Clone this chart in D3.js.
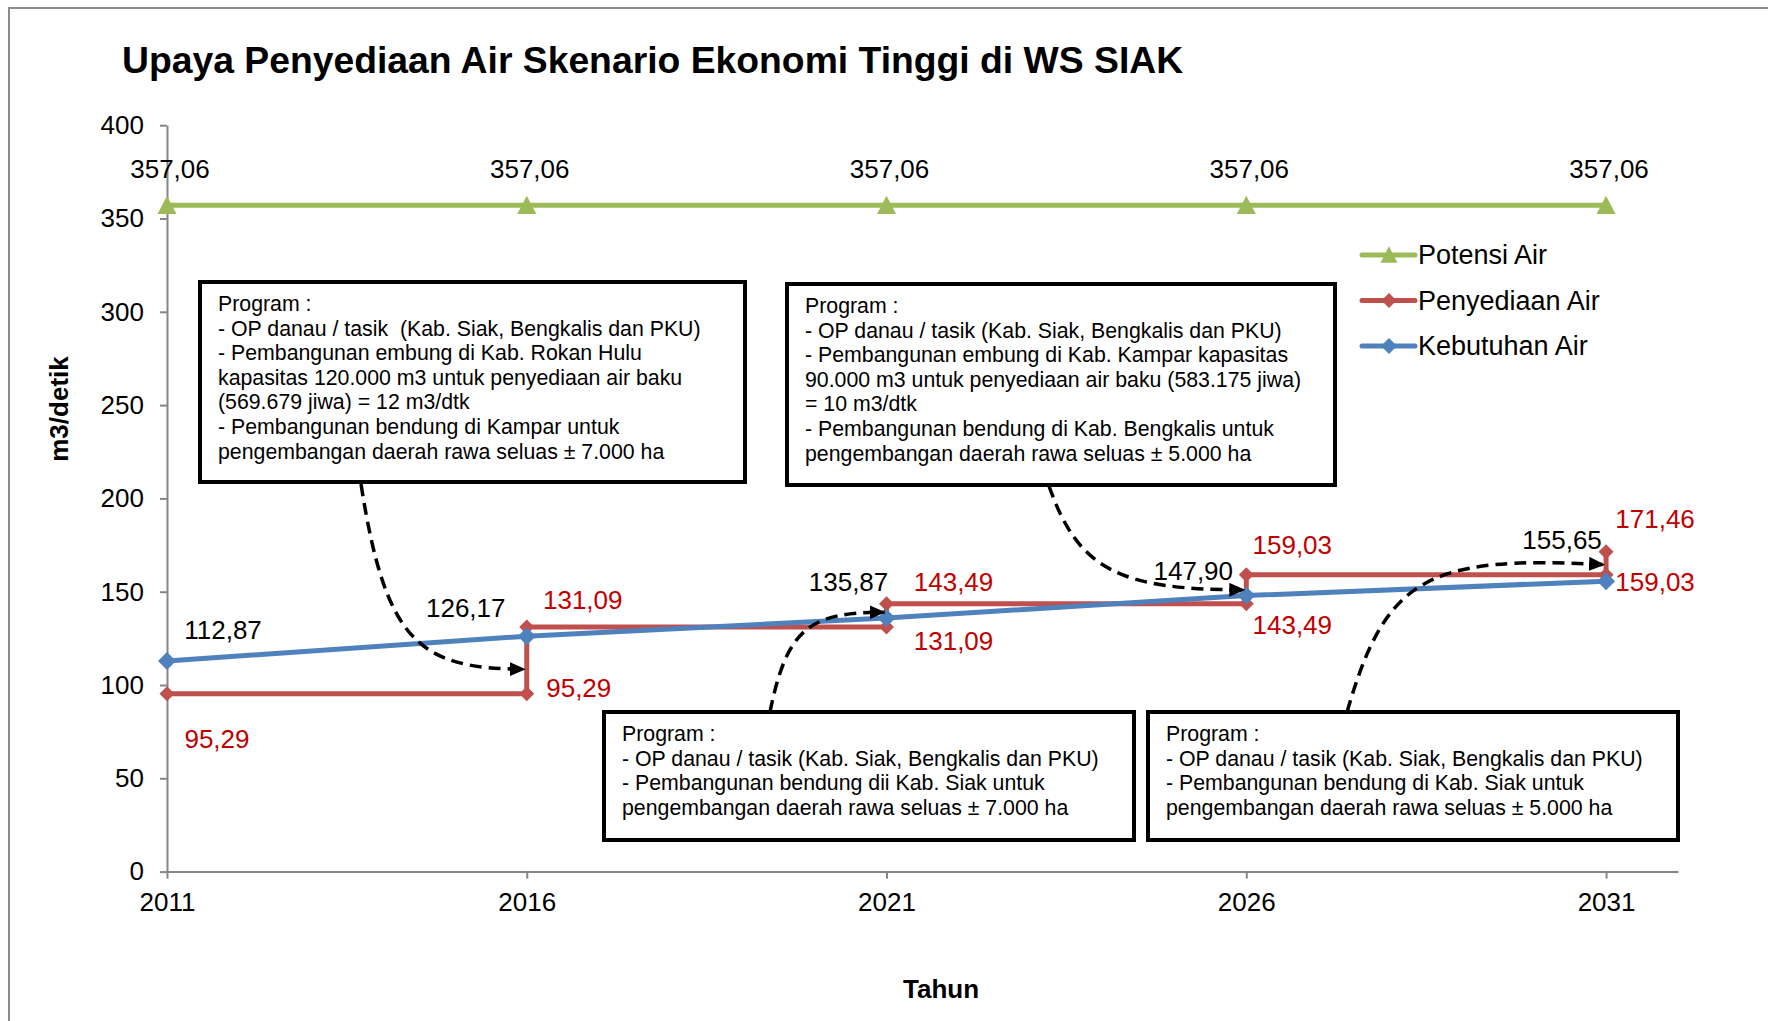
<!DOCTYPE html>
<html>
<head>
<meta charset="utf-8">
<script src="https://cdn.jsdelivr.net/npm/d3@7"></script>
<style>
  body { margin: 0; background: #fff; }
  svg { display: block; font-family: "Liberation Sans", Arial, sans-serif; }
</style>
</head>
<body>
<svg id="chart" width="1768" height="1021"></svg>
<script>
// data
var years = [2011, 2016, 2021, 2026, 2031];
var potensi = [357.06, 357.06, 357.06, 357.06, 357.06];
var kebutuhan = [112.87, 126.17, 135.87, 147.90, 155.65];
// penyediaan is a step line: value before and after each change
var penyediaanYears = [2011, 2016, 2016, 2021, 2021, 2026, 2026, 2031, 2031];
var penyediaan = [95.29, 95.29, 131.09, 131.09, 143.49, 143.49, 159.03, 159.03, 171.46];
var yTicks = [0, 50, 100, 150, 200, 250, 300, 350, 400];
var seriesNames = ['Potensi Air', 'Penyediaan Air', 'Kebutuhan Air'];

var programs = [
  ['Program :',
   '- OP danau / tasik  (Kab. Siak, Bengkalis dan PKU)',
   '- Pembangunan embung di Kab. Rokan Hulu',
   'kapasitas 120.000 m3 untuk penyediaan air baku',
   '(569.679 jiwa) = 12 m3/dtk',
   '- Pembangunan bendung di Kampar untuk',
   'pengembangan daerah rawa seluas \u00b1 7.000 ha'],
  ['Program :',
   '- OP danau / tasik (Kab. Siak, Bengkalis dan PKU)',
   '- Pembangunan embung di Kab. Kampar kapasitas',
   '90.000 m3 untuk penyediaan air baku (583.175 jiwa)',
   '= 10 m3/dtk',
   '- Pembangunan bendung di Kab. Bengkalis untuk',
   'pengembangan daerah rawa seluas \u00b1 5.000 ha'],
  ['Program :',
   '- OP danau / tasik (Kab. Siak, Bengkalis dan PKU)',
   '- Pembangunan bendung dii Kab. Siak untuk',
   'pengembangan daerah rawa seluas \u00b1 7.000 ha'],
  ['Program :',
   '- OP danau / tasik (Kab. Siak, Bengkalis dan PKU)',
   '- Pembangunan bendung di Kab. Siak untuk',
   'pengembangan daerah rawa seluas \u00b1 5.000 ha']
];
// where each program arrow points to (year, m3/detik)
var arrowTargets = [[2016, 108.5], [2026, 151], [2021, 139], [2031, 164.5]];

// layout
var boxes = [
  {x: 200, y: 282, w: 545, h: 200, from: [361, 484], bend: [0.15, 0.85, 0.35, 0]},
  {x: 787, y: 284, w: 548, h: 201, from: [1049, 486], bend: [0.15, 0.8, 0.35, 0]},
  {x: 604, y: 712, w: 530, h: 128, from: [770, 712], bend: [0.15, 0.85, 0.35, 0]},
  {x: 1148, y: 712, w: 530, h: 128, from: [1347, 712], bend: [0.15, 0.9, 0.3, -10]}
];
var kebOffsets = [[56, -31], [-61, -28], [-38, -36], [-53, -25], [-44, -41]];
var penOffsets = [[50, 45], [52, -6], [56, -27], [67, 14], [67, -22], [46, 21], [46, -30], [49, 7], [49, -33]];

var green = '#9BBB59', red = '#C0504D', blue = '#4F81BD', redText = '#C00000';
var axisGrey = '#868686';

var svg = d3.select('#chart');

// outer chart frame
svg.append('rect')
  .attr('x', 9).attr('y', 8).attr('width', 1800).attr('height', 1100)
  .attr('fill', 'none').attr('stroke', '#8c8c8c').attr('stroke-width', 2);

var x = d3.scaleLinear().domain([2011, 2032]).range([167, 1678]);
var y = d3.scaleLinear().domain([0, 400]).range([871.6, 125.2]);

svg.append('text')
  .attr('x', 122).attr('y', 73)
  .attr('font-size', 37.3).attr('font-weight', 'bold')
  .text('Upaya Penyediaan Air Skenario Ekonomi Tinggi di WS SIAK');

// axes
var yAxis = svg.append('g')
  .attr('transform', 'translate(' + x(2011) + ',0)')
  .call(d3.axisLeft(y).tickValues(yTicks).tickSize(7).tickSizeOuter(0).tickPadding(16));
var xAxis = svg.append('g')
  .attr('transform', 'translate(0,' + y(0) + ')')
  .call(d3.axisBottom(x).tickValues(years).tickFormat(d3.format('d')).tickSize(7).tickSizeOuter(0).tickPadding(14));
[yAxis, xAxis].forEach(function(g) {
  g.selectAll('path, line').attr('stroke', axisGrey).attr('stroke-width', 2);
  g.selectAll('text').attr('font-size', 26).attr('fill', '#000')
    .attr('font-family', '"Liberation Sans", Arial, sans-serif');
});

svg.append('text')
  .attr('transform', 'translate(59,' + 409 + ') rotate(-90)')
  .attr('text-anchor', 'middle').attr('dy', '0.35em')
  .attr('font-size', 26).attr('font-weight', 'bold')
  .text('m3/detik');
svg.append('text')
  .attr('x', 941).attr('y', 989).attr('dy', '0.35em')
  .attr('text-anchor', 'middle')
  .attr('font-size', 26).attr('font-weight', 'bold')
  .text('Tahun');

function diamond(r) {
  return 'M0,' + (-r) + 'L' + r + ',0L0,' + r + 'L' + (-r) + ',0Z';
}
function triangle(s) {
  var h = s * 0.9;
  return 'M0,' + (-h / 2 - 1) + 'L' + (s / 2) + ',' + (h / 2) + 'L' + (-s / 2) + ',' + (h / 2) + 'Z';
}

var line = d3.line().x(function(d) { return x(d[0]); }).y(function(d) { return y(d[1]); });

// Potensi Air
var potData = d3.zip(years, potensi);
svg.append('path').datum(potData)
  .attr('d', line).attr('fill', 'none').attr('stroke', green).attr('stroke-width', 5);
svg.selectAll('.potMark').data(potData).enter().append('path')
  .attr('transform', function(d) { return 'translate(' + x(d[0]) + ',' + y(d[1]) + ')'; })
  .attr('d', triangle(19)).attr('fill', green);
svg.selectAll('.potLab').data(potData).enter().append('text')
  .attr('x', function(d) { return x(d[0]) + 3; })
  .attr('y', function(d) { return y(d[1]) - 36; })
  .attr('dy', '0.35em').attr('text-anchor', 'middle').attr('font-size', 26)
  .text(function(d) { return d3.format('.2f')(d[1]).replace('.', ','); });

// Penyediaan Air
var penData = d3.zip(penyediaanYears, penyediaan);
svg.append('path').datum(penData)
  .attr('d', line).attr('fill', 'none').attr('stroke', red).attr('stroke-width', 5);
svg.selectAll('.penMark').data(penData).enter().append('path')
  .attr('transform', function(d) { return 'translate(' + x(d[0]) + ',' + y(d[1]) + ')'; })
  .attr('d', diamond(7.5)).attr('fill', red);

// Kebutuhan Air
var kebData = d3.zip(years, kebutuhan);
svg.append('path').datum(kebData)
  .attr('d', line).attr('fill', 'none').attr('stroke', blue).attr('stroke-width', 5);
svg.selectAll('.kebMark').data(kebData).enter().append('path')
  .attr('transform', function(d) { return 'translate(' + x(d[0]) + ',' + y(d[1]) + ')'; })
  .attr('d', diamond(9)).attr('fill', blue);

function fmt(v) { return d3.format('.2f')(v).replace('.', ','); }

svg.selectAll('.penLab').data(penData).enter().append('text')
  .attr('x', function(d, i) { return x(d[0]) + penOffsets[i][0]; })
  .attr('y', function(d, i) { return y(d[1]) + penOffsets[i][1]; })
  .attr('dy', '0.35em').attr('text-anchor', 'middle').attr('font-size', 26)
  .attr('fill', redText)
  .text(function(d) { return fmt(d[1]); });
svg.selectAll('.kebLab').data(kebData).enter().append('text')
  .attr('x', function(d, i) { return x(d[0]) + kebOffsets[i][0]; })
  .attr('y', function(d, i) { return y(d[1]) + kebOffsets[i][1]; })
  .attr('dy', '0.35em').attr('text-anchor', 'middle').attr('font-size', 26)
  .text(function(d) { return fmt(d[1]); });

// legend
var legend = svg.append('g').attr('transform', 'translate(1362,255)');
var legendColors = [green, red, blue];
var legendShapes = [triangle(17), diamond(7.5), diamond(8)];
seriesNames.forEach(function(name, i) {
  var row = legend.append('g').attr('transform', 'translate(0,' + (i * 45.5) + ')');
  row.append('line').attr('x1', 0).attr('x2', 53).attr('y1', 0).attr('y2', 0)
    .attr('stroke', legendColors[i]).attr('stroke-width', 5).attr('stroke-linecap', 'round');
  row.append('path').attr('transform', 'translate(27,0)').attr('d', legendShapes[i]).attr('fill', legendColors[i]);
  row.append('text').attr('x', 56).attr('dy', '0.35em').attr('font-size', 27).text(name);
});

// arrowhead
svg.append('defs').append('marker')
  .attr('id', 'head').attr('markerUnits', 'userSpaceOnUse')
  .attr('viewBox', '0 0 16 14').attr('refX', 15).attr('refY', 7)
  .attr('markerWidth', 16).attr('markerHeight', 14).attr('orient', 'auto')
  .append('path').attr('d', 'M0,0L16,7L0,14Z').attr('fill', '#000');

// program arrows and boxes
boxes.forEach(function(b, i) {
  var sx = b.from[0], sy = b.from[1];
  var tx = x(arrowTargets[i][0]) - 2, ty = y(arrowTargets[i][1]);
  var dx = tx - sx, dy = ty - sy;
  var c1 = [sx + b.bend[0] * dx, sy + b.bend[1] * dy];
  var c2 = [sx + b.bend[2] * dx, ty + b.bend[3]];
  svg.append('path')
    .attr('d', 'M' + sx + ',' + sy + 'C' + c1 + ' ' + c2 + ' ' + tx + ',' + ty)
    .attr('fill', 'none').attr('stroke', '#000').attr('stroke-width', 3.5)
    .attr('stroke-dasharray', '12 7').attr('marker-end', 'url(#head)');
});
boxes.forEach(function(b, i) {
  var g = svg.append('g').attr('transform', 'translate(' + b.x + ',' + b.y + ')');
  g.append('rect').attr('width', b.w).attr('height', b.h)
    .attr('fill', '#fff').attr('stroke', '#000').attr('stroke-width', 4);
  g.selectAll('text').data(programs[i]).enter().append('text')
    .attr('x', 18).attr('y', function(d, j) { return 29 + j * 24.6; })
    .attr('font-size', 21.3).attr('xml:space', 'preserve')
    .style('white-space', 'pre')
    .text(function(d) { return d; });
});
</script>
</body>
</html>
